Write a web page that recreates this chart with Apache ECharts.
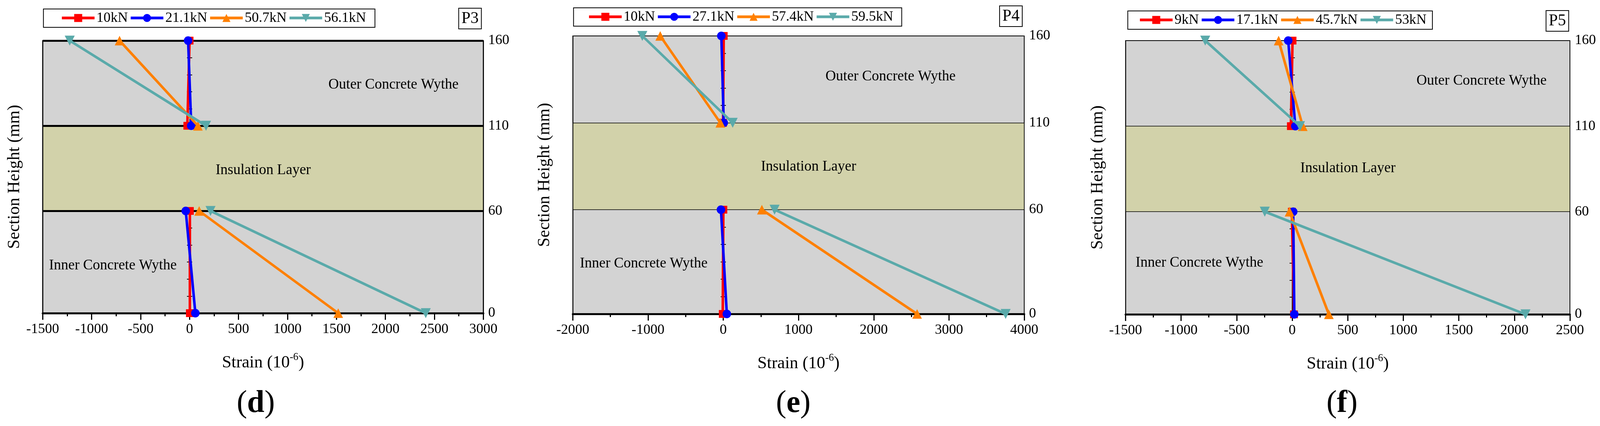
<!DOCTYPE html>
<html><head><meta charset="utf-8">
<script src="https://cdn.jsdelivr.net/npm/echarts@6/dist/echarts.min.js"></script>
<style>html,body{margin:0;padding:0;background:#fff;overflow:hidden}#c{width:100vw;height:100vh}</style>
</head><body><div id="c"></div>
<script>
// ---------- data ----------
const heights = [160, 110, 60, 0];          // section heights (mm) of the gauges
const yTickLabels = [0, 60, 110, 160];       // right-hand tick labels

const P3_names = ['10kN', '21.1kN', '50.7kN', '56.1kN'];
const P3_10kN  = [0, -23, 3, 3];
const P3_21kN  = [-15, 17, -39, 59];
const P3_50kN  = [-715, 85, 98, 1518];
const P3_56kN  = [-1224, 168, 214, 2412];

const P4_names = ['10kN', '27.1kN', '57.4kN', '59.5kN'];
const P4_10kN  = [6, -3, 1, -7];
const P4_27kN  = [-26, 6, -31, 47];
const P4_57kN  = [-838, -39, 513, 2576];
const P4_59kN  = [-1076, 125, 682, 3753];

const P5_names = ['9kN', '17.1kN', '45.7kN', '53kN'];
const P5_9kN   = [3, -12, -3, 16];
const P5_17kN  = [-36, 28, 9, 19];
const P5_45kN  = [-122, 95, -24, 330];
const P5_53kN  = [-783, 70, -247, 2100];

const xTicksP3 = { min: -1500, max: 3000, interval: 500 };
const xTicksP4 = { min: -2000, max: 4000, interval: 1000 };
const xTicksP5 = { min: -1500, max: 2500, interval: 500 };

const bandLow = 60, bandHigh = 110, topH = 160;

// ---------- layout / style (designed for 4310 x 1091, scaled to the window) ----------
const W = window.innerWidth || 4310, H = window.innerHeight || 1091;
const sx = W / 4310, sy = H / 1091, fs = Math.min(sx, sy);
const X = v => v * sx, Y = v => v * sy, F = v => v * fs;
const FONT = 'Liberation Serif';

const panels = [
  { id: 'P3', tag: 'd', names: P3_names, vals: [P3_10kN, P3_21kN, P3_50kN, P3_56kN], ticks: xTicksP3,
    grid: [115, 104, 1187, 698], thick: true,
    legend: [117, 23, 46, 24],
    box: [1235, 21],
    outer: [1060, 217], ins: [709, 436], inner: [304, 680], label: [689, 1034] },
  { id: 'P4', tag: 'e', names: P4_names, vals: [P4_10kN, P4_27kN, P4_57kN, P4_59kN], ticks: xTicksP4,
    grid: [1543, 92, 1216, 712], thick: false,
    legend: [1545, 20, 38, 23],
    box: [2692, 15],
    outer: [2399, 196], ins: [2178, 427], inner: [1734, 675], label: [2137, 1034] },
  { id: 'P5', tag: 'f', names: P5_names, vals: [P5_9kN, P5_17kN, P5_45kN, P5_53kN], ticks: xTicksP5,
    grid: [3032, 104, 1197, 701], thick: false,
    legend: [3038, 28, 29, 16],
    box: [4164, 27],
    outer: [3991, 207], ins: [3631, 431], inner: [3231, 673], label: [3615, 1034] }
];
const sStyles = [
  { color: '#FF0000', symbol: 'rect', size: 21, rotate: 0 },
  { color: '#0000FF', symbol: 'circle', size: 23, rotate: 0 },
  { color: '#FF8000', symbol: 'triangle', size: 26, rotate: 0 },
  { color: '#5AAAAA', symbol: 'triangle', size: 27, rotate: 180 }
];

function toPoints(v) {
  return [[v[0], heights[0]], [v[1], heights[1]], ['-', '-'], [v[2], heights[2]], [v[3], heights[3]]];
}

const grids = [], xAxes = [], yAxes = [], series = [], legends = [], titles = [], graphics = [];

panels.forEach((p, i) => {
  grids.push({ left: X(p.grid[0]), top: Y(p.grid[1]), width: X(p.grid[2]), height: Y(p.grid[3]),
    show: true, backgroundColor: '#D3D3D3', borderColor: '#000', borderWidth: 2,
    containLabel: false, outerBoundsMode: 'none' });

  xAxes.push({
    gridIndex: i, type: 'value', position: 'bottom', min: p.ticks.min, max: p.ticks.max, interval: p.ticks.interval,
    axisLine: { onZero: false, lineStyle: { color: '#000', width: 5 } },
    axisTick: { show: true, length: Y(17), lineStyle: { color: '#000', width: 3 } },
    minorTick: { show: true, splitNumber: 2, length: Y(8), lineStyle: { color: '#000', width: 3 } },
    splitLine: { show: false }, minorSplitLine: { show: false },
    axisLabel: { margin: Y(24), fontSize: F(38), fontFamily: FONT, color: '#000', formatter: v => String(v) },
    name: 'Strain (10{sup|-6})', nameLocation: 'middle', nameGap: Y(100),
    nameTextStyle: { fontSize: F(46), fontFamily: FONT, color: '#000', lineHeight: F(58),
      rich: { sup: { fontSize: F(28), fontFamily: FONT, color: '#000', verticalAlign: 'top', lineHeight: F(28) } } }
  });

  const base = i * 4;
  // right-hand labels
  yAxes.push({
    gridIndex: i, type: 'value', position: 'right', min: 0, max: topH, interval: 10,
    axisLine: { show: false, onZero: false }, axisTick: { show: false }, splitLine: { show: false },
    axisLabel: { margin: X(13), fontSize: F(38), fontFamily: FONT, color: '#000',
      formatter: v => (yTickLabels.indexOf(v) >= 0 ? String(v) : '') }
  });
  // left axis carrying the name
  yAxes.push({
    gridIndex: i, type: 'value', position: 'left', min: 0, max: topH,
    axisLine: { show: false, onZero: false }, axisTick: { show: false }, axisLabel: { show: false }, splitLine: { show: false },
    name: 'Section Height (mm)', nameLocation: 'middle', nameRotate: 90, nameGap: X(52),
    nameTextStyle: { fontSize: F(46), fontFamily: FONT, color: '#000' }
  });
  // axis through zero strain (ticks on both sides)
  [false, true].forEach(inside => {
    yAxes.push({
      gridIndex: i, type: 'value', position: 'left', min: 0, max: topH, interval: 10, z: 3,
      axisLine: { show: true, onZero: true, onZeroAxisIndex: i, lineStyle: { color: '#000', width: 1.5 } },
      axisTick: { show: true, inside: inside, length: X(7), lineStyle: { color: '#000', width: 2 } },
      axisLabel: { show: false }, splitLine: { show: false }
    });
  });

  // insulation band
  series.push({
    type: 'line', xAxisIndex: i, yAxisIndex: base, data: [], z: 4, silent: true, clip: false,
    markArea: { z: 4, silent: true, itemStyle: { color: '#D2D2AA', borderWidth: 0 },
      data: [[{ yAxis: bandLow }, { yAxis: bandHigh }]] }
  });
  // layer boundaries and plot frame
  const hl = p.thick ? 5 : 1.5;
  const mlData = [
    { yAxis: bandHigh, lineStyle: { width: hl } },
    { yAxis: bandLow, lineStyle: { width: hl } },
    { xAxis: p.ticks.min, lineStyle: { width: p.thick ? 2.5 : 1.5 } },
    { xAxis: p.ticks.max, lineStyle: { width: p.thick ? 2.5 : 1.5 } }
  ];
  if (p.thick) mlData.push({ yAxis: topH, lineStyle: { width: 5 } });
  series.push({
    type: 'line', xAxisIndex: i, yAxisIndex: base, data: [], z: 6, silent: true, clip: false,
    markLine: { z: 6, silent: true, symbol: ['none', 'none'], animation: false, label: { show: false },
      lineStyle: { color: '#000', type: 'solid', width: 1.5 }, data: mlData }
  });

  p.vals.forEach((v, k) => {
    const s = sStyles[k];
    series.push({
      type: 'line', name: p.names[k], xAxisIndex: i, yAxisIndex: base, z: 10 + k, clip: false,
      data: toPoints(v), connectNulls: false,
      symbol: s.symbol, symbolSize: F(s.size), symbolRotate: s.rotate, showSymbol: true,
      itemStyle: { color: s.color }, lineStyle: { color: s.color, width: 6.5 }
    });
  });

  legends.push({
    left: X(p.legend[0]), top: Y(p.legend[1]), orient: 'horizontal',
    padding: [Y(5), X(p.legend[3]), Y(6), X(p.legend[2])],
    backgroundColor: '#fff', borderColor: '#000', borderWidth: 2, borderRadius: 0,
    itemWidth: X(88), itemHeight: F(27), itemGap: X(4), selectedMode: false,
    data: p.names, lineStyle: { width: 7 },
    textStyle: { fontSize: F(38), fontFamily: FONT, color: '#000', lineHeight: F(38) }
  });

  titles.push({
    text: p.id, left: X(p.box[0]), top: Y(p.box[1]), padding: [Y(5), X(8), Y(5), X(8)],
    borderColor: '#000', borderWidth: 2,
    textStyle: { fontSize: F(44), fontFamily: FONT, color: '#000', fontWeight: 'normal', lineHeight: F(46) }
  });

  const txt = (pos, t, size) => ({ type: 'text', x: X(pos[0]), y: Y(pos[1]), z: 100, silent: true,
    style: { text: t, fontSize: F(size), fontFamily: FONT, fill: '#000', align: 'center', verticalAlign: 'middle' } });
  graphics.push(txt(p.outer, 'Outer Concrete Wythe', 39));
  graphics.push(txt(p.ins, 'Insulation Layer', 39));
  graphics.push(txt(p.inner, 'Inner Concrete Wythe', 39));
  graphics.push({ type: 'text', x: X(p.label[0]), y: Y(p.label[1]), z: 100, silent: true,
    style: { text: '({b|' + p.tag + '})', fontSize: F(84), fontFamily: FONT, fill: '#000', align: 'center', verticalAlign: 'middle',
      rich: { b: { fontSize: F(84), fontFamily: FONT, fontWeight: 'bold', fill: '#000' } } } });
});

const chart = echarts.init(document.getElementById('c'), null, { renderer: 'canvas' });
chart.setOption({
  animation: false,
  backgroundColor: '#fff',
  title: titles,
  legend: legends,
  grid: grids,
  xAxis: xAxes,
  yAxis: yAxes,
  series: series,
  graphic: graphics
});
</script>
</body></html>
